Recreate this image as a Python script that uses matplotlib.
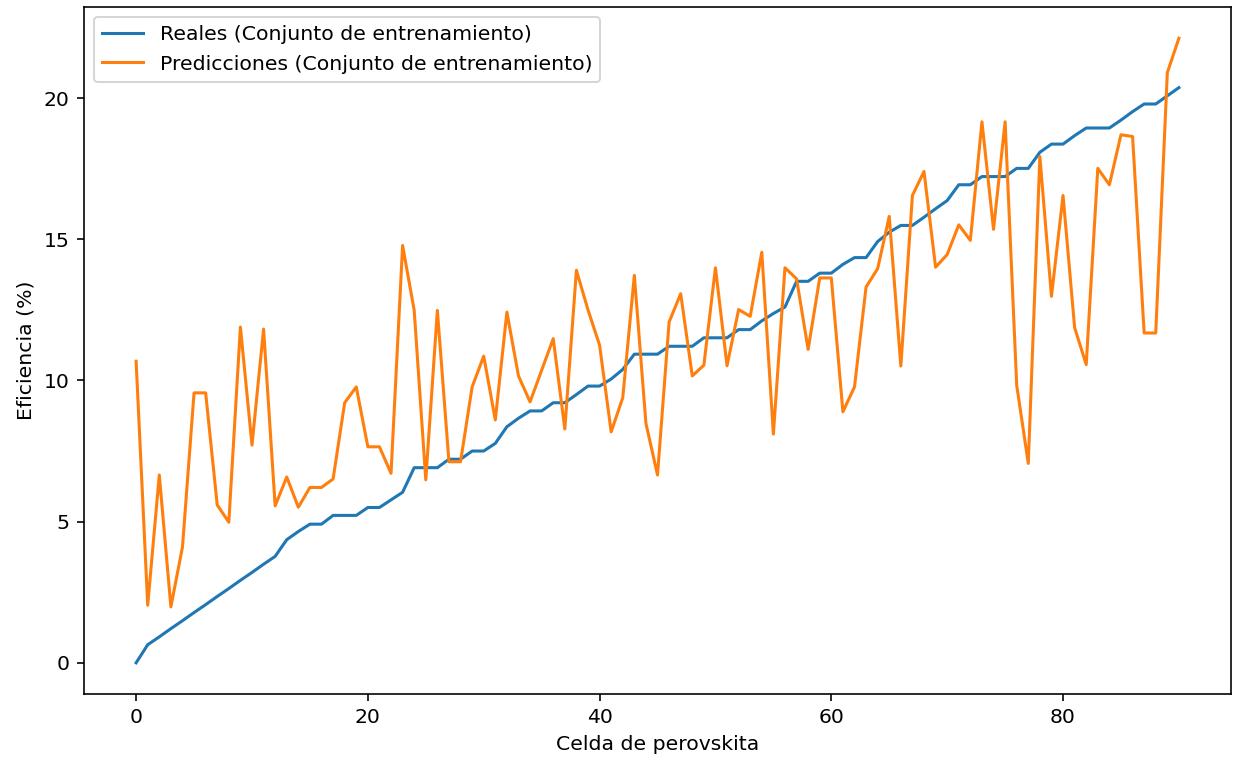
import numpy as np
import matplotlib
matplotlib.use("Agg")
import matplotlib.pyplot as plt

# eficiencia real de cada celda (ordenada) y la predicha por el modelo
reales = [
    0.0, 0.64, 0.92, 1.21, 1.49, 1.78, 2.06, 2.35, 2.63, 2.92,
    3.20, 3.49, 3.77, 4.36, 4.65, 4.91, 4.91, 5.22, 5.22, 5.22,
    5.50, 5.50, 5.77, 6.04, 6.91, 6.91, 6.91, 7.21, 7.21, 7.50,
    7.50, 7.77, 8.36, 8.66, 8.92, 8.92, 9.21, 9.21, 9.50, 9.80,
    9.80, 10.05, 10.39, 10.93, 10.93, 10.93, 11.21, 11.21, 11.21, 11.51,
    11.51, 11.51, 11.80, 11.80, 12.11, 12.37, 12.60, 13.51, 13.51, 13.80,
    13.80, 14.11, 14.35, 14.35, 14.92, 15.25, 15.49, 15.49, 15.78, 16.08,
    16.37, 16.93, 16.93, 17.22, 17.22, 17.22, 17.51, 17.51, 18.08, 18.37,
    18.37, 18.67, 18.94, 18.94, 18.94, 19.22, 19.52, 19.79, 19.79, 20.08,
    20.37,
]
predicciones = [
    10.68, 2.04, 6.65, 1.98, 4.10, 9.56, 9.56, 5.59, 4.98, 11.89,
    7.71, 11.82, 5.56, 6.58, 5.51, 6.21, 6.21, 6.51, 9.21, 9.77,
    7.65, 7.65, 6.71, 14.78, 12.48, 6.48, 12.48, 7.12, 7.12, 9.77,
    10.86, 8.60, 12.42, 10.16, 9.24, 10.36, 11.48, 8.28, 13.90, 12.50,
    11.25, 8.18, 9.39, 13.72, 8.48, 6.65, 12.07, 13.07, 10.16, 10.54,
    13.99, 10.52, 12.51, 12.27, 14.54, 8.10, 13.99, 13.60, 11.10, 13.63,
    13.63, 8.89, 9.77, 13.31, 13.96, 15.81, 10.51, 16.55, 17.40, 14.01,
    14.46, 15.51, 14.96, 19.16, 15.35, 19.16, 9.83, 7.06, 17.93, 12.98,
    16.55, 11.87, 10.56, 17.51, 16.93, 18.70, 18.64, 11.68, 11.68, 20.90,
    22.12,
]
celdas = np.arange(len(reales))

dpi = 147
fig = plt.figure(figsize=(1235 / dpi, 759 / dpi), dpi=dpi)
ax = fig.add_axes([0.068, 0.0856, 0.9288, 0.9052])

ax.plot(celdas, reales, label='Reales (Conjunto de entrenamiento)')
ax.plot(celdas, predicciones, label='Predicciones (Conjunto de entrenamiento)')
ax.set_xlabel('Celda de perovskita')
ax.set_ylabel('Eficiencia (%)')
ax.legend(loc='upper left')

fig.savefig('out.png', dpi=dpi)
